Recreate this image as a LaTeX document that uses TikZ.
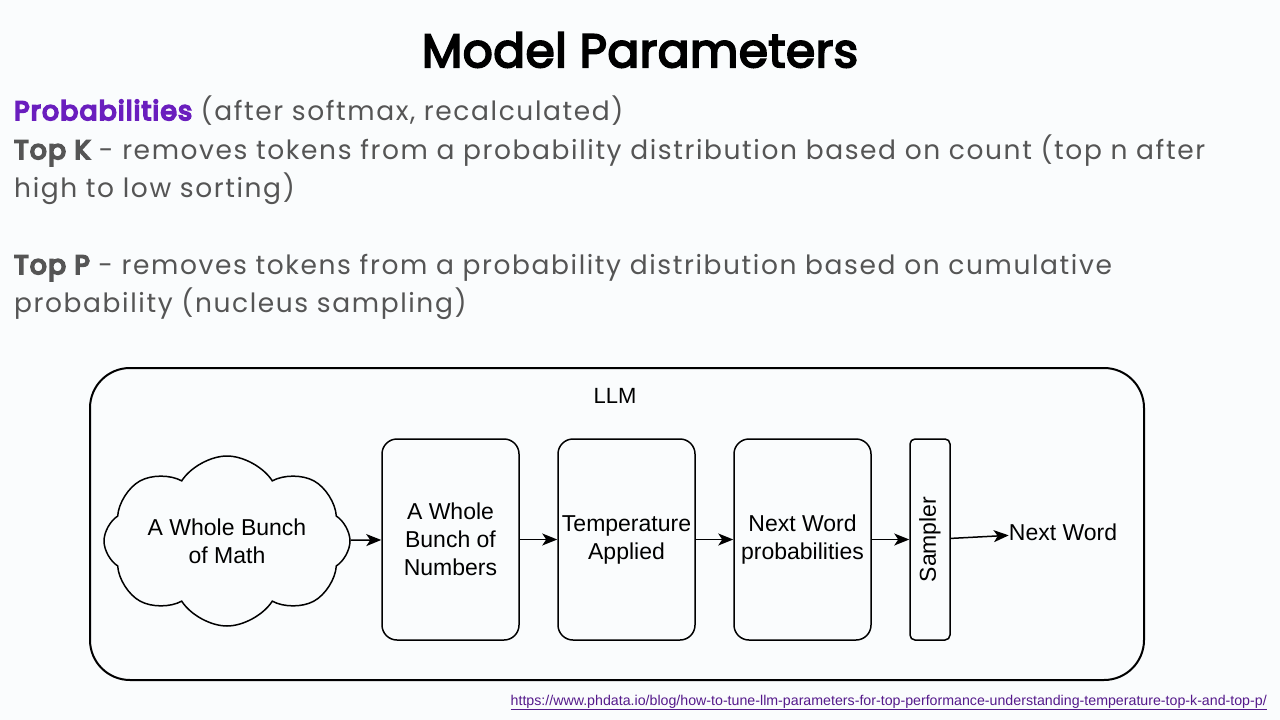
\documentclass[tikz,border=0pt]{standalone}
\usepackage{fontspec}
\setmainfont{Poppins}[LetterSpace=6]
\newfontfamily\keyfont{Poppins}[LetterSpace=5,FakeBold=7]
\newfontfamily\titlefont{Poppins}[LetterSpace=1,FakeBold=4]
\newfontfamily\diafont{Liberation Sans}
\newcommand\keyterm[1]{{\keyfont #1}}
\usetikzlibrary{arrows.meta,positioning,shapes.symbols}
\definecolor{slidebg}{RGB}{250,252,253}
\definecolor{bodygray}{RGB}{85,85,85}
\definecolor{keypurple}{RGB}{106,30,190}
\definecolor{linkpurple}{RGB}{85,26,139}

\begin{document}
\begin{tikzpicture}[-,>={Stealth[length=15pt,width=12pt,inset=4pt]},x=1pt,y=-1pt,node distance=37.5pt,
  txt/.style={anchor=base west, inner sep=0pt, text=bodygray, font=\fontsize{26.5}{30}\selectfont},
  stage/.style={draw, line width=1.5pt, rounded corners=15pt, minimum width=137pt, minimum height=201pt,
    inner sep=0pt, align=center, font=\diafont\fontsize{23}{28}\selectfont},
  dia/.style={inner sep=0pt, align=center, font=\diafont\fontsize{23}{28}\selectfont}]
  \fill[slidebg] (0,0) rectangle (1280,720);
  \useasboundingbox (0,0) rectangle (1280,720);

  \node (title) [font=\titlefont\fontsize{47}{52}\selectfont] at (640,50) {Model Parameters};
  \node (l1) [txt] at (14,120) {\textcolor{keypurple}{\keyterm{Probabilities}} (after softmax, recalculated)};
  \node (l2) [txt] at (14,159) {\keyterm{Top K} - removes tokens from a probability distribution based on count (top n after};
  \node (l3) [txt] at (14,197) {high to low sorting)};
  \node (l4) [txt] at (14,274) {\keyterm{Top P} - removes tokens from a probability distribution based on cumulative};
  \node (l5) [txt] at (14,312) {probability (nucleus sampling)};

  % the LLM frame
  \node (llm) [draw, line width=2pt, rounded corners=40pt, minimum width=1054pt, minimum height=312pt] at (617,524) {};
  \node (llmlbl) [dia, font=\diafont\fontsize{22}{26}\selectfont] at (615,396) {LLM};

  \node (math) [draw, line width=1.5pt, cloud, cloud puffs=8, cloud puff arc=115, cloud ignores aspect,
    minimum width=246pt, minimum height=170pt, dia] at (227,541) {A Whole Bunch\\of Math};
  \node (nums)  [stage] at (450.5,539.5)   {A Whole\\Bunch of\\Numbers};
  \node (temp)  [stage, right=of nums]     {Temperature\\Applied};
  \node (probs) [stage, right=of temp]     {Next Word\\probabilities};
  \node (smp)   [stage, right=of probs, minimum width=40pt, rounded corners=5pt] {};
  \node (smplbl) [dia, rotate=90] at (smp) {Sampler};
  \node (word)  [dia, right=58pt of smp, yshift=7pt] {Next Word};

  \path[->, line width=1.5pt] (math) edge (nums)
        (nums) edge (temp)
        (temp) edge (probs)
        (probs) edge (smp)
        (smp) edge (word);

  \node (src) [anchor=base east, inner sep=0pt, text=linkpurple, font=\diafont\fontsize{14.2}{16}\selectfont]
    at (1267,705) {\underline{https://www.phdata.io/blog/how-to-tune-llm-parameters-for-top-performance-understanding-temperature-top-k-and-top-p/}};
\end{tikzpicture}
\end{document}
